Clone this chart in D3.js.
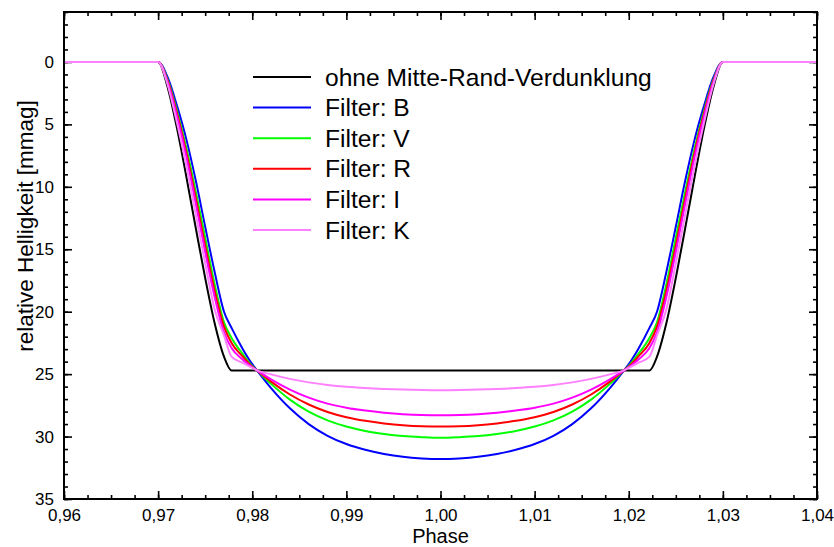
<!DOCTYPE html>
<html>
<head>
<meta charset="utf-8">
<script src="https://cdn.jsdelivr.net/npm/d3@7"></script>
<style>
  html, body { margin: 0; padding: 0; background: #fff; }
  svg { display: block; font-family: "Liberation Sans", Arial, sans-serif; }
</style>
</head>
<body>
<svg id="chart" width="834" height="547"></svg>
<script>
// Phase values (shared x for all curves)
const phase = [0.960, 0.970, 0.971, 0.972, 0.973, 0.974, 0.975, 0.976, 0.977, 0.9778, 0.979, 0.980, 0.9805,
  0.982, 0.984, 0.986, 0.988, 0.990, 0.992, 0.994, 0.996, 0.998, 1.000,
  1.002, 1.004, 1.006, 1.008, 1.010, 1.012, 1.014, 1.016, 1.018, 1.0195, 1.020, 1.021, 1.0222,
  1.023, 1.024, 1.025, 1.026, 1.027, 1.028, 1.029, 1.030, 1.040];

// relative brightness [mmag] per curve
const noLimb = [0, 0, 2.0, 5.3, 9.2, 13.3, 17.3, 20.9, 23.6, 24.7, 24.7, 24.7, 24.7,
  24.7, 24.7, 24.7, 24.7, 24.7, 24.7, 24.7, 24.7, 24.7, 24.7,
  24.7, 24.7, 24.7, 24.7, 24.7, 24.7, 24.7, 24.7, 24.7, 24.7, 24.7, 24.7, 24.7,
  23.6, 20.9, 17.3, 13.3, 9.2, 5.3, 2.0, 0, 0];
const filterB = [0, 0, 1.2, 3.5, 6.2, 9.5, 13.2, 16.8, 20.0, 21.3, 23.0, 24.2, 24.7,
  26.12, 27.74, 29.0, 29.94, 30.6, 31.06, 31.39, 31.62, 31.75, 31.8,
  31.75, 31.62, 31.39, 31.06, 30.6, 29.94, 29.0, 27.74, 26.12, 24.7, 24.2, 23.0, 21.3,
  20.0, 16.8, 13.2, 9.5, 6.2, 3.5, 1.2, 0, 0];
const filterV = [0, 0, 1.4, 3.9, 6.9, 10.4, 14.1, 17.8, 20.85, 22.1, 23.4, 24.35, 24.7,
  25.78, 27.04, 28.0, 28.7, 29.2, 29.55, 29.79, 29.96, 30.05, 30.1,
  30.05, 29.96, 29.79, 29.55, 29.2, 28.7, 28.0, 27.04, 25.78, 24.7, 24.35, 23.4, 22.1,
  20.85, 17.8, 14.1, 10.4, 6.9, 3.9, 1.4, 0, 0];
const filterR = [0, 0, 1.5, 4.1, 7.25, 10.9, 14.7, 18.3, 21.2, 22.5, 23.6, 24.4, 24.7,
  25.6, 26.63, 27.43, 28.03, 28.45, 28.74, 28.95, 29.1, 29.18, 29.2,
  29.18, 29.1, 28.95, 28.74, 28.45, 28.03, 27.43, 26.63, 25.6, 24.7, 24.4, 23.6, 22.5,
  21.2, 18.3, 14.7, 10.9, 7.25, 4.1, 1.5, 0, 0];
const filterI = [0, 0, 1.6, 4.35, 7.6, 11.35, 15.2, 18.8, 21.65, 22.9, 23.85, 24.45, 24.7,
  25.42, 26.24, 26.88, 27.36, 27.69, 27.92, 28.09, 28.21, 28.28, 28.3,
  28.28, 28.21, 28.09, 27.92, 27.69, 27.36, 26.88, 26.24, 25.42, 24.7, 24.45, 23.85, 22.9,
  21.65, 18.8, 15.2, 11.35, 7.6, 4.35, 1.6, 0, 0];
const filterK = [0, 0, 1.8, 4.85, 8.3, 12.2, 16.1, 19.8, 21.9, 23.6, 24.1, 24.5, 24.7,
  25.02, 25.38, 25.66, 25.87, 26.02, 26.12, 26.19, 26.24, 26.28, 26.3,
  26.28, 26.24, 26.19, 26.12, 26.02, 25.87, 25.66, 25.38, 25.02, 24.7, 24.5, 24.1, 23.6,
  21.9, 19.8, 16.1, 12.2, 8.3, 4.85, 1.8, 0, 0];

const seriesNames = ["ohne Mitte-Rand-Verdunklung", "Filter: B", "Filter: V", "Filter: R", "Filter: I", "Filter: K"];
const seriesValues = [noLimb, filterB, filterV, filterR, filterI, filterK];
const seriesColors = ["#000000", "#0000ff", "#00ff00", "#ff0000", "#ff00ff", "#ff80ff"];

const xTicks = [0.96, 0.97, 0.98, 0.99, 1.00, 1.01, 1.02, 1.03, 1.04];
const yTicks = [0, 5, 10, 15, 20, 25, 30, 35];

// plot frame
const plotLeft = 64, plotRight = 817, plotTop = 12, plotBottom = 499;

const svg = d3.select("#chart");

const x = d3.scaleLinear().domain([0.96, 1.04]).range([plotLeft, plotRight]);
const y = d3.scaleLinear().domain([-4, 35]).range([plotTop, plotBottom]);

const de = d3.formatLocale({ decimal: ",", thousands: ".", grouping: [3], currency: ["", "€"] });
const fmtX = de.format(".2f");

const xMinor = d3.range(0.96, 1.04001, 0.0025).map(v => +v.toFixed(4));
const yMinor = d3.range(-4, 36, 1);

function styleAxis(g) {
  g.select(".domain").remove();
  g.selectAll("line").attr("stroke", "#000").attr("stroke-width", 1.6);
  g.selectAll("text").attr("fill", "#000").attr("font-size", 17)
    .attr("font-family", "'Liberation Sans', Arial, sans-serif");
}

// minor ticks on all four sides
svg.append("g").attr("transform", `translate(0,${plotBottom})`)
  .call(d3.axisBottom(x).tickValues(xMinor).tickSizeInner(-4).tickSizeOuter(0).tickFormat(""))
  .call(styleAxis);
svg.append("g").attr("transform", `translate(0,${plotTop})`)
  .call(d3.axisTop(x).tickValues(xMinor).tickSizeInner(-4).tickSizeOuter(0).tickFormat(""))
  .call(styleAxis);
svg.append("g").attr("transform", `translate(${plotLeft},0)`)
  .call(d3.axisLeft(y).tickValues(yMinor).tickSizeInner(-4).tickSizeOuter(0).tickFormat(""))
  .call(styleAxis);
svg.append("g").attr("transform", `translate(${plotRight},0)`)
  .call(d3.axisRight(y).tickValues(yMinor).tickSizeInner(-4).tickSizeOuter(0).tickFormat(""))
  .call(styleAxis);

// major ticks
svg.append("g").attr("transform", `translate(0,${plotBottom})`)
  .call(d3.axisBottom(x).tickValues(xTicks).tickSizeInner(-8).tickSizeOuter(0).tickPadding(10).tickFormat(fmtX))
  .call(styleAxis);
svg.append("g").attr("transform", `translate(0,${plotTop})`)
  .call(d3.axisTop(x).tickValues(xTicks).tickSizeInner(-8).tickSizeOuter(0).tickFormat(""))
  .call(styleAxis);
svg.append("g").attr("transform", `translate(${plotLeft},0)`)
  .call(d3.axisLeft(y).tickValues(yTicks).tickSizeInner(-8).tickSizeOuter(0).tickPadding(10).tickFormat(d3.format("d")))
  .call(styleAxis);
svg.append("g").attr("transform", `translate(${plotRight},0)`)
  .call(d3.axisRight(y).tickValues(yTicks).tickSizeInner(-8).tickSizeOuter(0).tickFormat(""))
  .call(styleAxis);

// curves
const line = d3.line()
  .x(d => x(d[0]))
  .y(d => y(d[1]))
  .curve(d3.curveMonotoneX);

const plot = svg.append("g");
plot.append("clipPath").attr("id", "clip")
  .append("rect").attr("x", plotLeft).attr("y", plotTop)
  .attr("width", plotRight - plotLeft).attr("height", plotBottom - plotTop);

seriesValues.forEach((vals, i) => {
  plot.append("path")
    .datum(phase.map((p, j) => [p, vals[j]]))
    .attr("clip-path", "url(#clip)")
    .attr("fill", "none")
    .attr("stroke", seriesColors[i])
    .attr("stroke-width", 2)
    .attr("stroke-linejoin", "round")
    .attr("d", line);
});

// frame
svg.append("rect")
  .attr("x", plotLeft).attr("y", plotTop)
  .attr("width", plotRight - plotLeft).attr("height", plotBottom - plotTop)
  .attr("fill", "none").attr("stroke", "#000").attr("stroke-width", 2);

// legend
const legend = svg.append("g").attr("transform", "translate(253,77)");
seriesNames.forEach((name, i) => {
  const row = legend.append("g").attr("transform", `translate(0,${i * 30.6})`);
  row.append("line").attr("x1", 0).attr("x2", 58).attr("y1", 0).attr("y2", 0)
    .attr("stroke", seriesColors[i]).attr("stroke-width", 2);
  row.append("text").attr("x", 72).attr("dy", "0.35em")
    .attr("font-size", 24.6).attr("fill", "#000").text(name);
});

// axis titles
svg.append("text")
  .attr("x", (plotLeft + plotRight) / 2).attr("y", 543)
  .attr("text-anchor", "middle").attr("font-size", 20).attr("fill", "#000")
  .text("Phase");

svg.append("text")
  .attr("transform", "translate(33,226) rotate(-90)")
  .attr("text-anchor", "middle").attr("font-size", 22.5).attr("fill", "#000")
  .text("relative Helligkeit [mmag]");
</script>
</body>
</html>
